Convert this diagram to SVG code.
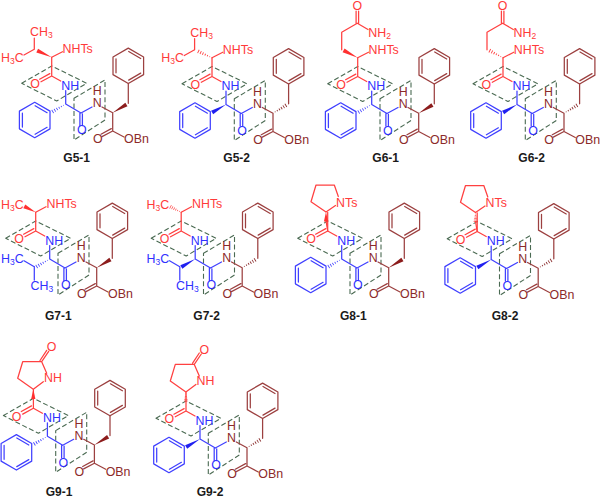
<svg xmlns="http://www.w3.org/2000/svg" width="600" height="499" viewBox="0 0 600 499">
<style>
text{font-family:"Liberation Sans",Arial,sans-serif;font-size:12.4px}
.r{fill:#ff3a3a}.b{fill:#3030ff}.d{fill:#8c2a2a}
.m{text-anchor:middle}
text.l{font-size:12px;font-weight:bold;fill:#1a1a1a;text-anchor:middle}
.s{font-size:8.5px}
.lr,.lb,.ld,.dash,.ph{fill:none;stroke-width:1.25;stroke-linecap:round;stroke-linejoin:round}
.lr{stroke:#ff4040}.lb{stroke:#4040ff}.ld{stroke:#9c4040}
.dash{stroke:#4a6a52;stroke-width:1.1;stroke-dasharray:5 2.6;stroke-linecap:butt}
.wr{fill:#ff3030}.wb{fill:#2020f0}.wd{fill:#8c1c1c}
.hr,.hb,.hd{fill:none;stroke-width:.9}
.hr{stroke:#ff4040}.hb{stroke:#4040ff}.hd{stroke:#8c3030}
</style>
<defs>
<path id="ph" d="M0-17.7 15.3-8.85V8.85L0 17.7-15.3 8.85V-8.85ZM-12.3-7V7M.4-14.3 12.4-7.3M.4 14.3 12.4 7.3"/>
<g id="wedge"><path d="M0 0 16-2.1V2.100Z"/></g>
<path id="hash" d="M2.500-.4V.4M5-.7V.7M7.500-1V1M10-1.300V1.300M12.500-1.600V1.600M15-1.900V1.900"/>
<g id="frame">
<path class="dash" d="M21.700 83.300 51.700 66 86.700 83.300 56.700 101Z"/>
<path class="dash" d="M74 98.300 105 80V120L74 140Z"/>
<path class="lr" d="M51.700 57.300V76L60.700 81M51.700 76 41 81.800M49.800 73.600 39.600 79.200"/>
<path class="lb" d="M65.700 90.500V104L81 113 92 107M79.900 113V125.500M82.400 113.800V125.500"/>
<path class="ld" d="M102 107 112.700 112.700V131L124 137M112.700 131 102 136.600M111.300 128.600 101 134.200M128.300 103.300V83.500"/>
<use href="#ph" class="ld" transform="translate(128.300 65.800)"/>
</g>
<g id="wedgeD" class="wd"><use href="#wedge" transform="translate(112.700 112.700) rotate(-31)"/></g>
<g id="hashD" class="hd"><use href="#hash" transform="translate(112.700 112.700) rotate(-31)"/></g>
<g id="wedgeB" class="wb"><use href="#wedge" transform="translate(65.700 104) rotate(150)"/></g>
<g id="hashB" class="hb"><use href="#hash" transform="translate(65.700 104) rotate(150)"/></g>
<use id="phB" href="#ph" class="lb" transform="translate(34.700 120)"/>
<path id="valL" class="lr" d="M34.300 49.300V38M34.300 49.300 24 55M51.700 57.300 62.500 51.700"/>
<path id="glnL" class="lr" d="M35.700 49.300V31.700L51.300 22.700 62 29M50.100 22.700V10.500M52.600 22.700V10.500M51.700 57.300 62.500 51.700"/>
<path id="alaL" class="lr" d="M51.700 57.300 62 51.700"/>
<path id="proL" class="lr" d="M50 57 35 46.700 40 30H58.300L62.300 41.500M50 57 59.500 50.500M50 66 51.700 76"/>
<path id="pyrL" class="lr" d="M51.600 57 36 46 41 29.400H60L65 41M51.600 57 61.600 49.400M60 29.400 67 19M58.300 28.200 65 18"/>
<path id="ibuL" class="lb" d="M50.300 111.700 40 105.700M50.300 111.700V125"/>
</defs>
<rect width="600" height="499" fill="#fff"/>

<g id="G5-1"><g transform="translate(0 0)">
<use href="#frame"/><use href="#valL"/><use href="#phB"/>
<g class="wr"><use href="#wedge" transform="translate(51.700 57.300) rotate(-155)"/></g>
<use href="#hashB"/><use href="#wedgeD"/>
<text class="r" x="30" y="36">CH<tspan class="s" dy="2">3</tspan></text>
<text class="r" x="1" y="61.500">H<tspan class="s" dy="2">3</tspan><tspan dy="-2">C</tspan></text>
<text class="r" x="62.500" y="53.300">NHTs</text>
<text class="r m" x="35" y="88.300">O</text><text class="b" x="61.300" y="89.500">NH</text><text class="b m" x="81.700" y="134.300">O</text>
<text class="d m" x="97.300" y="95.300">H</text><text class="d m" x="97.300" y="107.300">N</text><text class="d m" x="97.700" y="143.300">O</text><text class="d" x="124" y="143.300">OBn</text>
</g><text class="l" x="76.700" y="162">G5-1</text></g>

<g id="G5-2"><g transform="translate(160.300 0.500)">
<use href="#frame"/><use href="#valL"/><use href="#phB"/>
<g class="hr"><use href="#hash" transform="translate(51.700 57.300) rotate(-155)"/></g>
<use href="#wedgeB"/><use href="#hashD"/>
<text class="r" x="30" y="36">CH<tspan class="s" dy="2">3</tspan></text>
<text class="r" x="1" y="61.500">H<tspan class="s" dy="2">3</tspan><tspan dy="-2">C</tspan></text>
<text class="r" x="62.500" y="53.300">NHTs</text>
<text class="r m" x="35" y="88.300">O</text><text class="b" x="61.300" y="89.500">NH</text><text class="b m" x="81.700" y="134.300">O</text>
<text class="d m" x="97.300" y="95.300">H</text><text class="d m" x="97.300" y="107.300">N</text><text class="d m" x="97.700" y="143.300">O</text><text class="d" x="124" y="143.300">OBn</text>
</g><text class="l" x="236.700" y="162">G5-2</text></g>

<g id="G6-1"><g transform="translate(306 0.500)">
<use href="#frame"/><use href="#glnL"/><use href="#phB"/>
<g class="wr"><use href="#wedge" transform="translate(51.700 57.300) rotate(-152)"/></g>
<use href="#hashB"/><use href="#wedgeD"/>
<text class="r m" x="51.300" y="9.300">O</text>
<text class="r" x="62.300" y="36.300">NH<tspan class="s" dy="2">2</tspan></text>
<text class="r" x="62.500" y="53.300">NHTs</text>
<text class="r m" x="35" y="88.300">O</text><text class="b" x="61.300" y="89.500">NH</text><text class="b m" x="81.700" y="134.300">O</text>
<text class="d m" x="97.300" y="95.300">H</text><text class="d m" x="97.300" y="107.300">N</text><text class="d m" x="97.700" y="143.300">O</text><text class="d" x="124" y="143.300">OBn</text>
</g><text class="l" x="385.700" y="162">G6-1</text></g>

<g id="G6-2"><g transform="translate(451.300 0.500)">
<use href="#frame"/><use href="#glnL"/><use href="#phB"/>
<g class="hr"><use href="#hash" transform="translate(51.700 57.300) rotate(-152)"/></g>
<use href="#wedgeB"/><use href="#hashD"/>
<text class="r m" x="51.300" y="9.300">O</text>
<text class="r" x="62.300" y="36.300">NH<tspan class="s" dy="2">2</tspan></text>
<text class="r" x="62.500" y="53.300">NHTs</text>
<text class="r m" x="35" y="88.300">O</text><text class="b" x="61.300" y="89.500">NH</text><text class="b m" x="81.700" y="134.300">O</text>
<text class="d m" x="97.300" y="95.300">H</text><text class="d m" x="97.300" y="107.300">N</text><text class="d m" x="97.700" y="143.300">O</text><text class="d" x="124" y="143.300">OBn</text>
</g><text class="l" x="531.700" y="162">G6-2</text></g>

<g id="G7-1"><g transform="translate(-16 155)">
<use href="#frame"/><use href="#alaL"/><use href="#ibuL"/>
<g class="wr"><use href="#wedge" transform="translate(51.700 57.300) rotate(-153) scale(.8 1)"/></g>
<use href="#hashB"/><use href="#wedgeD"/>
<text class="r" x="17" y="53.500">H<tspan class="s" dy="2">3</tspan><tspan dy="-2">C</tspan></text>
<text class="r" x="62.500" y="53.300">NHTs</text>
<text class="b" x="17" y="107.500">H<tspan class="s" dy="2">3</tspan><tspan dy="-2">C</tspan></text>
<text class="b" x="46.500" y="135">CH<tspan class="s" dy="2">3</tspan></text>
<text class="r m" x="35" y="88.300">O</text><text class="b" x="61.300" y="89.500">NH</text><text class="b m" x="81.700" y="134.300">O</text>
<text class="d m" x="97.300" y="95.300">H</text><text class="d m" x="97.300" y="107.300">N</text><text class="d m" x="97.700" y="143.300">O</text><text class="d" x="124" y="143.300">OBn</text>
</g><text class="l" x="58.300" y="320">G7-1</text></g>

<g id="G7-2"><g transform="translate(129.500 155)">
<use href="#frame"/><use href="#alaL"/><use href="#ibuL"/>
<g class="hr"><use href="#hash" transform="translate(51.700 57.300) rotate(-153) scale(.8 1)"/></g>
<use href="#wedgeB"/><use href="#hashD"/>
<text class="r" x="17" y="53.500">H<tspan class="s" dy="2">3</tspan><tspan dy="-2">C</tspan></text>
<text class="r" x="62.500" y="53.300">NHTs</text>
<text class="b" x="17" y="107.500">H<tspan class="s" dy="2">3</tspan><tspan dy="-2">C</tspan></text>
<text class="b" x="46.500" y="135">CH<tspan class="s" dy="2">3</tspan></text>
<text class="r m" x="35" y="88.300">O</text><text class="b" x="61.300" y="89.500">NH</text><text class="b m" x="81.700" y="134.300">O</text>
<text class="d m" x="97.300" y="95.300">H</text><text class="d m" x="97.300" y="107.300">N</text><text class="d m" x="97.700" y="143.300">O</text><text class="d" x="124" y="143.300">OBn</text>
</g><text class="l" x="206.700" y="320">G7-2</text></g>

<g id="G8-1"><g transform="translate(276 155)">
<use href="#frame"/><use href="#proL"/><use href="#phB"/>
<g class="wr"><use href="#wedge" transform="translate(50 57) rotate(90) scale(.6 1)"/></g>
<use href="#hashB"/><use href="#wedgeD"/>
<text class="r" x="60" y="51.600">NTs</text>
<text class="r m" x="35" y="88.300">O</text><text class="b" x="61.300" y="89.500">NH</text><text class="b m" x="81.700" y="134.300">O</text>
<text class="d m" x="97.300" y="95.300">H</text><text class="d m" x="97.300" y="107.300">N</text><text class="d m" x="97.700" y="143.300">O</text><text class="d" x="124" y="143.300">OBn</text>
</g><text class="l" x="353.300" y="320">G8-1</text></g>

<g id="G8-2"><g transform="translate(425.500 155.500)">
<use href="#frame"/><use href="#proL"/><use href="#phB"/>
<g class="hr"><use href="#hash" transform="translate(50 57) rotate(90) scale(.6 1)"/></g>
<use href="#wedgeB"/><use href="#hashD"/>
<text class="r" x="60" y="51.600">NTs</text>
<text class="r m" x="35" y="88.300">O</text><text class="b" x="61.300" y="89.500">NH</text><text class="b m" x="81.700" y="134.300">O</text>
<text class="d m" x="97.300" y="95.300">H</text><text class="d m" x="97.300" y="107.300">N</text><text class="d m" x="97.700" y="143.300">O</text><text class="d" x="124" y="143.300">OBn</text>
</g><text class="l" x="505" y="320">G8-2</text></g>

<g id="G9-1"><g transform="translate(-18.300 332.300)">
<use href="#frame"/><use href="#pyrL"/><use href="#phB"/>
<g class="wr"><use href="#wedge" transform="translate(51.600 57) rotate(90) scale(.6 1)"/></g>
<use href="#hashB"/><use href="#wedgeD"/>
<text class="r m" x="70" y="19">O</text>
<text class="r" x="62.300" y="50">NH</text>
<text class="r m" x="35" y="88.300">O</text><text class="b" x="61.300" y="89.500">NH</text><text class="b m" x="81.700" y="134.300">O</text>
<text class="d m" x="97.300" y="95.300">H</text><text class="d m" x="97.300" y="107.300">N</text><text class="d m" x="97.700" y="143.300">O</text><text class="d" x="124" y="143.300">OBn</text>
</g><text class="l" x="59" y="496">G9-1</text></g>

<g id="G9-2"><g transform="translate(134.300 335)">
<use href="#frame"/><use href="#pyrL"/><use href="#phB"/>
<g class="hr"><use href="#hash" transform="translate(51.600 57) rotate(90) scale(.6 1)"/></g>
<use href="#wedgeB"/><use href="#hashD"/>
<text class="r m" x="70" y="19">O</text>
<text class="r" x="62.300" y="50">NH</text>
<text class="r m" x="35" y="88.300">O</text><text class="b" x="61.300" y="89.500">NH</text><text class="b m" x="81.700" y="134.300">O</text>
<text class="d m" x="97.300" y="95.300">H</text><text class="d m" x="97.300" y="107.300">N</text><text class="d m" x="97.700" y="143.300">O</text><text class="d" x="124" y="143.300">OBn</text>
</g><text class="l" x="210" y="496">G9-2</text></g>
</svg>
